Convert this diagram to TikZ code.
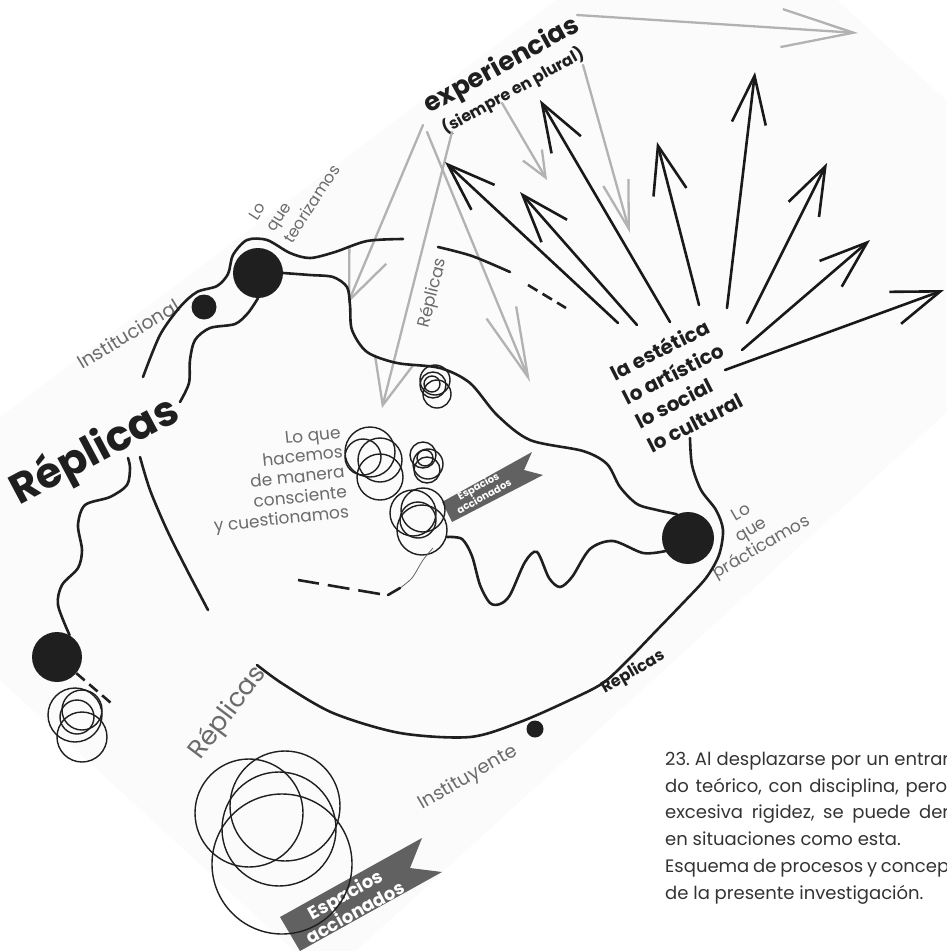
\documentclass[tikz,border=0pt]{standalone}
\usepackage{fontspec}
\setmainfont{Poppins}
\usetikzlibrary{arrows.meta,positioning,shapes}

\begin{document}
\begin{tikzpicture}
  [
    x=1pt, y=-1pt,
    Dot/.style={circle, fill=black!88, inner sep=0pt},
    Wire/.style={line width=2.6pt, line cap=round, black!88},
    Dash/.style={Wire, line cap=butt, dash pattern=on 11pt off 6pt},
    Ring/.style={line width=1.4pt, black!88},
    Ink/.style={line width=2.6pt, line cap=round, black!90, -{Straight Barb[length=48pt,width=34pt]}},
    Pale/.style={line width=2.3pt, line cap=round, black!30},
    Note/.style={text=black!58, font=\fontsize{17}{20}\selectfont, inner sep=0pt},
    Strong/.style={text=black!88, font=\bfseries\fontsize{20}{27}\selectfont, inner sep=0pt},
    Flag/.style={fill=black!62},
    FlagText/.style={text=white, font=\bfseries\fontsize{10}{10}\selectfont, inner sep=0pt, align=center},
    Caption/.style={text=black!80, font=\frenchspacing\fontsize{18}{26.7}\selectfont, inner sep=0pt, align=left}
  ]
  \useasboundingbox (0,0) rectangle (946,951);
  % page behind the sketch
  \fill[black!1.5] (0,417) -- (556,0) -- (837,0) -- (946,100) -- (946,413) -- (356,951) -- (294,951) -- (0,680) -- cycle;

  % Nodes
  \node[Dot, minimum size=50pt] (theory) at (258,273) {};
  \node[Dot, minimum size=25pt] (inst) at (204,307) {};
  \node[Dot, minimum size=52pt] (practice) at (688,538) {};
  \node[Dot, minimum size=50pt] (lowdot) at (57,657) {};
  \node[Dot, minimum size=17pt] (instit) at (535,729) {};

  \node[Strong, font=\bfseries\fontsize{26}{26}\selectfont, rotate=29] (exp) at (502,66) {experiencias};
  \node[Strong, font=\bfseries\fontsize{16}{16}\selectfont, rotate=29] (plural) at (513,91) {(siempre en plural)};
  \node[Strong, rotate=27, align=left, anchor=west] (fields) at (630,410) {la estética\\lo artístico\\lo social\\lo cultural};
  \node[Note, font=\fontsize{16}{21}\selectfont, rotate=57, align=left, anchor=west] (theorylbl) at (270,230) {Lo\\que\\teorizamos};
  \node[Note, font=\fontsize{19}{19}\selectfont, rotate=31] (instlbl) at (128,334) {Institucional};
  \node[Strong, font=\bfseries\fontsize{42}{42}\selectfont, rotate=28] (rep) at (95,452) {Réplicas};
  \node[Note, rotate=6, align=right, anchor=east] (doing) at (345,474) {Lo que\\hacemos\\de manera\\consciente\\y cuestionamos};
  \node[Note, rotate=76] (replbl) at (433,293) {Réplicas};
  \node[Note, rotate=30, align=center] (praxis) at (752,531) {Lo\\que\\prácticamos};
  \node[Strong, font=\bfseries\fontsize{16}{16}\selectfont, rotate=30] (repbottom) at (633,672) {Réplicas};
  \node[Note, font=\fontsize{19}{19}\selectfont, rotate=30] (institlbl) at (468,778) {Instituyente};
  \node[Note, font=\fontsize{26}{26}\selectfont, rotate=53] (repleft) at (228,713) {Réplicas};

  % banners
  \fill[Flag] (442,502) -- (532,452) -- (524,470) -- (543,475) -- (452,522) -- cycle;
  \node[FlagText, rotate=29] (flag1) at (481,491) {Espacios\\accionados};
  \fill[Flag] (280,917) -- (422,838) -- (410,868) -- (442,872) -- (300,951) -- cycle;
  \node[FlagText, font=\bfseries\fontsize{18}{16}\selectfont, rotate=29] (flag2) at (350,903) {Espacios\\accionados};

  % rings
  \foreach \cx/\cy/\r in {435/380/15, 433/385/13, 437/394/14, 432/384/8,
                          370/452/25, 380/460/22, 380/477/23, 363/457/18,
                          423/455/13, 428/464/15, 427/470/13, 425/458/8,
                          413/513/23, 423/510/22, 422/530/25, 418/520/18,
                          75/715/27, 82/710/20, 82/737/25, 77/717/17,
                          249/813/54, 285/806/55, 279/829/57, 282/864/70}
    \draw[Ring] (\cx,\cy) circle[radius=\r];

  % gray arrows
  \foreach \i/\bx/\by/\tx/\ty/\l/\w in {1/577/15/858/33/72pt/38pt, 2/502/103/547/180/26pt/22pt,
                                        3/583/65/630/233/48pt/26pt, 4/427/132/530/382/70pt/32pt,
                                        5/423/125/348/303/48pt/40pt, 6/452/132/382/408/47pt/40pt}
  {
    \coordinate (from\i) at (\bx,\by);
    \coordinate (to\i) at (\tx,\ty);
    \draw[Pale, -{Straight Barb[length=\l,width=\w]}] (from\i) -- (to\i);
  }

  % Lines
  \draw[Wire] plot[smooth] coordinates {(143,377) (160,335) (180,307) (197,292) (217,286) (228,274) (233,255) (247,240) (267,240) (290,253) (310,258) (335,252) (367,241) (403,239)};
  \draw[Wire] plot[smooth] coordinates {(438,247) (472,256) (510,272)};
  \draw[Dash] (528,285) -- (566,308);
  \draw[Wire] plot[smooth] coordinates {(180,402) (189,383) (190,360) (195,340) (210,328) (235,324) (248,313) (theory.south)};
  \draw[Wire] plot[smooth] coordinates {(theory.east) (310,275) (333,277) (347,287) (350,305) (352,330) (367,352) (397,363) (440,368) (470,383) (497,415) (530,440) (583,451) (607,464) (620,487) (637,504) (657,510) (practice.115)};
  \draw[Wire] plot[smooth] coordinates {(practice.210) (643,553) (613,541) (590,549) (572,577) (560,587) (549,578) (537,552) (525,562) (510,595) (500,604) (490,603) (480,585) (472,556) (462,539) (447,537)};
  \draw[line width=0.8pt, black!60] plot[smooth] coordinates {(433,548) (423,560) (412,578) (400,588)};
  \draw[Wire] (400,588) -- (388,595);
  \draw[Dash, dash pattern=on 22pt off 9pt] (380,594) -- (298,580);
  \draw[Wire] plot[smooth] coordinates {(lowdot.60) (58,605) (62,585) (78,568) (82,550) (78,525) (85,505) (110,497) (127,485) (130,468) (128,458)};
  \draw[Wire] plot[smooth] coordinates {(140,457) (150,490) (167,530) (187,570) (208,610)};
  \draw[Wire] plot[smooth] coordinates {(257,665) (283,684) (333,713) (400,733) (470,737) (520,722) (570,700) (603,683) (628,660) (655,632) (683,603) (706,578) (719,555) (723,530) (716,510) (701,490) (692,465) (690,438)};
  \draw[Dash] (lowdot.-40) -- (111,703);

  % black arrows
  \foreach \i/\bx/\by/\tx/\ty in {1/618/323/445/162, 2/637/325/520/192, 3/670/322/540/100, 4/699/305/657/142,
                                  5/727/308/755/72, 6/747/323/827/163, 7/742/350/870/240, 8/725/370/944/290}
  {
    \coordinate (root\i) at (\bx,\by);
    \coordinate (tip\i) at (\tx,\ty);
    \draw[Ink] (root\i) -- (tip\i);
  }

  % caption
  \node[Caption, anchor=north west] (caption) at (665,752) {\makebox[284pt][s]{23. Al desplazarse por un entrar}\\
    \makebox[282pt][s]{do teórico, con disciplina, pero}\\
    \makebox[284pt][s]{excesiva rigidez, se puede der}\\
    en situaciones como esta.\\
    \makebox[284pt][s]{Esquema de procesos y concep}\\
    de la presente investigación.};
\end{tikzpicture}
\end{document}
